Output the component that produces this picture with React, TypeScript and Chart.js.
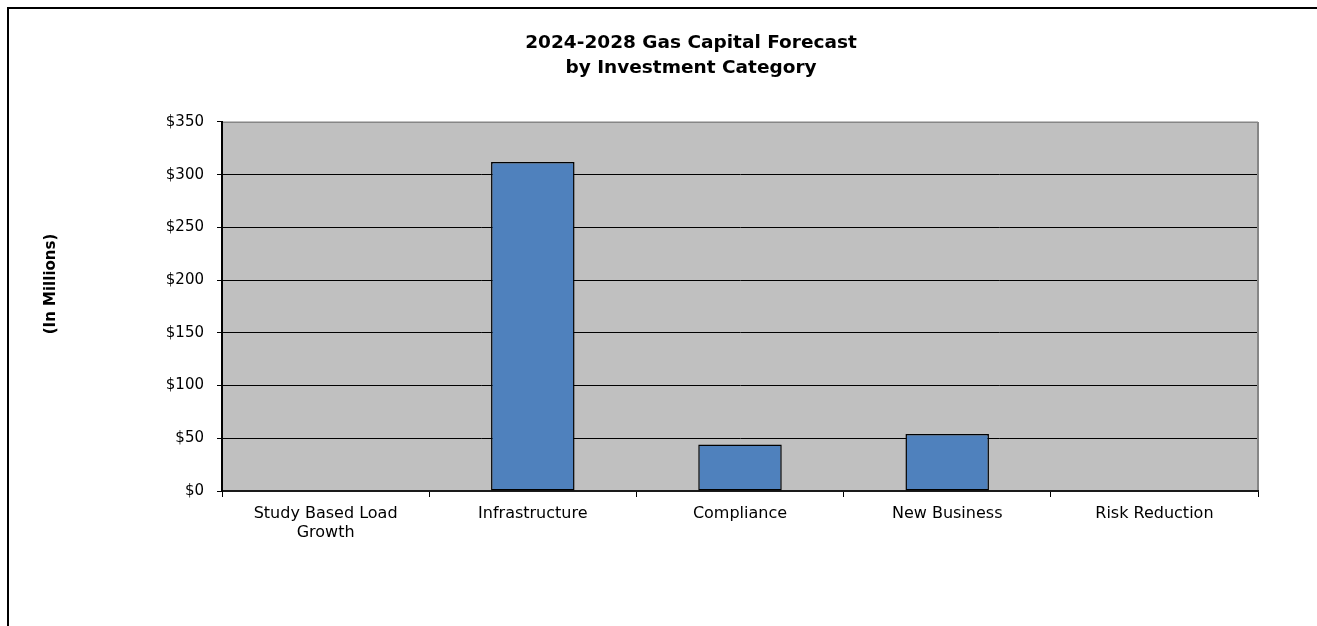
import React, { useEffect, useRef } from 'react';
import { Chart, registerables } from 'chart.js';

Chart.register(...registerables);

const titleLines = ['2024-2028 Gas Capital Forecast', 'by Investment Category'];
const yAxisTitle = '(In Millions)';
const categories: (string | string[])[] = [
  ['Study Based Load', 'Growth'],
  'Infrastructure',
  'Compliance',
  'New Business',
  'Risk Reduction',
];
const capitalValues = [0, 312, 44, 54, 0];
const yMin = 0;
const yMax = 350;
const yStep = 50;

const FONT = "'DejaVu Sans', 'Liberation Sans', sans-serif";

const framePlugin = {
  id: 'framePlugin',
  beforeDraw(chart: any) {
    const { ctx, chartArea: a } = chart;
    ctx.save();
    ctx.fillStyle = '#ffffff';
    ctx.fillRect(0, 0, chart.width, chart.height);
    ctx.fillStyle = '#C0C0C0';
    ctx.fillRect(a.left, a.top, a.right - a.left, a.bottom - a.top);
    ctx.restore();
  },
  afterDraw(chart: any) {
    const { ctx, chartArea: a } = chart;
    ctx.save();
    // gray plot-area border (top and right)
    ctx.strokeStyle = '#868686';
    ctx.lineWidth = 1.5;
    ctx.beginPath();
    ctx.moveTo(a.left + 1, a.top + 0.25);
    ctx.lineTo(a.right, a.top + 0.25);
    ctx.stroke();
    ctx.lineWidth = 2;
    ctx.beginPath();
    ctx.moveTo(a.right, a.top);
    ctx.lineTo(a.right, a.bottom - 1);
    ctx.stroke();
    // outer chart frame
    ctx.strokeStyle = '#000';
    ctx.lineWidth = 2;
    ctx.beginPath();
    ctx.moveTo(8, chart.height + 20);
    ctx.lineTo(8, 8);
    ctx.lineTo(chart.width + 20, 8);
    ctx.stroke();
    // y axis title
    ctx.translate(51, 284);
    ctx.rotate(-Math.PI / 2);
    ctx.font = `bold 15px ${FONT}`;
    ctx.fillStyle = '#000';
    ctx.textAlign = 'center';
    ctx.textBaseline = 'middle';
    ctx.fillText(yAxisTitle, 0, 0);
    ctx.restore();
  },
};

export default function App() {
  const ref = useRef<HTMLCanvasElement>(null);

  useEffect(() => {
    if (!ref.current) return;
    const chart = new Chart(ref.current, {
      type: 'bar',
      data: {
        labels: categories,
        datasets: [
          {
            label: 'Capital',
            data: capitalValues,
            backgroundColor: '#4F81BD',
            borderColor: '#000',
            borderWidth: (c: any) => (c.raw ? 1.5 : 0),
            borderSkipped: false,
            barPercentage: 0.403,
            categoryPercentage: 1,
          },
        ],
      },
      options: {
        responsive: false,
        maintainAspectRatio: false,
        animation: false,
        layout: { padding: 0 },
        plugins: {
          legend: { display: false },
          tooltip: { enabled: false },
          title: {
            display: true,
            text: titleLines,
            color: '#000',
            font: { family: FONT, size: 18.5, weight: 'bold', lineHeight: 1.31 },
            padding: { top: 31.5, bottom: 42 },
          },
        },
        scales: {
          x: {
            type: 'category',
            offset: true,
            grid: {
              offset: true,
              drawOnChartArea: false,
              drawTicks: true,
              tickLength: 6,
              tickColor: '#000',
              color: '#000',
            },
            border: { color: '#1a1a1a', width: 2 },
            ticks: {
              color: '#000',
              font: { family: FONT, size: 16, lineHeight: 1.15 },
              padding: 8,
              maxRotation: 0,
              autoSkip: false,
            },
            afterFit: (s: any) => {
              s.height = 135;
            },
          },
          y: {
            min: yMin,
            max: yMax,
            ticks: {
              stepSize: yStep,
              callback: (v: any) => '$' + v,
              color: '#000',
              font: { family: FONT, size: 15 },
              padding: 13,
            },
            grid: {
              color: (c: any) => (c.tick && c.tick.value === yMax ? 'rgba(0,0,0,0)' : '#000'),
              tickColor: '#000',
              tickLength: 5,
              lineWidth: 1,
            },
            border: { color: '#000', width: 2 },
            afterFit: (s: any) => {
              s.width = 222;
            },
          },
          rightSpace: {
            type: 'linear',
            position: 'right',
            display: true,
            grid: { display: false },
            ticks: { display: false },
            border: { display: false },
            afterFit: (s: any) => {
              s.width = 124;
            },
          },
        },
      } as any,
      plugins: [framePlugin],
    });
    return () => chart.destroy();
  }, []);

  return (
    <div
      style={{
        position: 'fixed',
        left: 0,
        top: 0,
        width: 1317,
        height: 626,
        overflow: 'hidden',
        background: '#fff',
      }}
    >
      <canvas ref={ref} width={1382} height={626} style={{ display: 'block' }} />
    </div>
  );
}
